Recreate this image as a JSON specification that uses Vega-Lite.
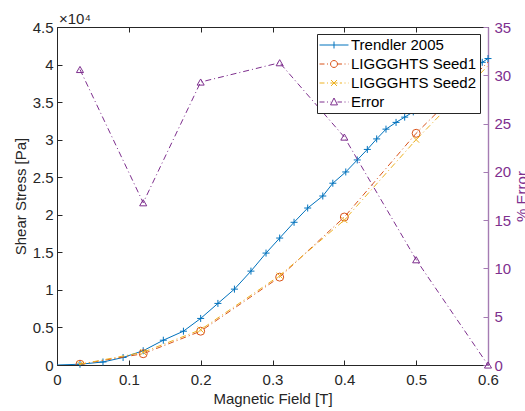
{
  "$schema": "https://vega.github.io/schema/vega-lite/v6.json",
  "width": 431,
  "height": 338,
  "autosize": {"type": "none"},
  "padding": {"left": 57, "top": 27, "right": 37, "bottom": 46},
  "title": {"text": "×10⁴", "anchor": "start", "frame": "group", "fontSize": 15, "fontWeight": "normal", "color": "#262626", "font": "Liberation Sans", "offset": 4, "baseline": "alphabetic", "dx": 2, "dy": 23},
  "datasets": {
    "stress": [
      {"B": 0, "series": "Trendler 2005", "S": 0},
      {"B": 0.032, "series": "Trendler 2005", "S": 100},
      {"B": 0.064, "series": "Trendler 2005", "S": 400},
      {"B": 0.092, "series": "Trendler 2005", "S": 1000},
      {"B": 0.12, "series": "Trendler 2005", "S": 1900},
      {"B": 0.148, "series": "Trendler 2005", "S": 3300},
      {"B": 0.176, "series": "Trendler 2005", "S": 4500},
      {"B": 0.2, "series": "Trendler 2005", "S": 6200},
      {"B": 0.224, "series": "Trendler 2005", "S": 8200},
      {"B": 0.247, "series": "Trendler 2005", "S": 10100},
      {"B": 0.27, "series": "Trendler 2005", "S": 12500},
      {"B": 0.291, "series": "Trendler 2005", "S": 14900},
      {"B": 0.31, "series": "Trendler 2005", "S": 16900},
      {"B": 0.33, "series": "Trendler 2005", "S": 19000},
      {"B": 0.349, "series": "Trendler 2005", "S": 20900},
      {"B": 0.37, "series": "Trendler 2005", "S": 22500},
      {"B": 0.384, "series": "Trendler 2005", "S": 24200},
      {"B": 0.402, "series": "Trendler 2005", "S": 25700},
      {"B": 0.418, "series": "Trendler 2005", "S": 27300},
      {"B": 0.432, "series": "Trendler 2005", "S": 28700},
      {"B": 0.445, "series": "Trendler 2005", "S": 30100},
      {"B": 0.458, "series": "Trendler 2005", "S": 31400},
      {"B": 0.472, "series": "Trendler 2005", "S": 32300},
      {"B": 0.484, "series": "Trendler 2005", "S": 33000},
      {"B": 0.496, "series": "Trendler 2005", "S": 33700},
      {"B": 0.508, "series": "Trendler 2005", "S": 34400},
      {"B": 0.52, "series": "Trendler 2005", "S": 35200},
      {"B": 0.532, "series": "Trendler 2005", "S": 36000},
      {"B": 0.544, "series": "Trendler 2005", "S": 36900},
      {"B": 0.556, "series": "Trendler 2005", "S": 37800},
      {"B": 0.568, "series": "Trendler 2005", "S": 38700},
      {"B": 0.58, "series": "Trendler 2005", "S": 39600},
      {"B": 0.592, "series": "Trendler 2005", "S": 40300},
      {"B": 0.6, "series": "Trendler 2005", "S": 40800},
      {"B": 0.032, "series": "LIGGGHTS Seed1", "S": 100},
      {"B": 0.12, "series": "LIGGGHTS Seed1", "S": 1500},
      {"B": 0.2, "series": "LIGGGHTS Seed1", "S": 4500},
      {"B": 0.31, "series": "LIGGGHTS Seed1", "S": 11700},
      {"B": 0.4, "series": "LIGGGHTS Seed1", "S": 19700},
      {"B": 0.5, "series": "LIGGGHTS Seed1", "S": 30850},
      {"B": 0.7, "series": "LIGGGHTS Seed1", "S": 49800},
      {"B": 0.032, "series": "LIGGGHTS Seed2", "S": 100},
      {"B": 0.12, "series": "LIGGGHTS Seed2", "S": 1700},
      {"B": 0.2, "series": "LIGGGHTS Seed2", "S": 4700},
      {"B": 0.31, "series": "LIGGGHTS Seed2", "S": 11900},
      {"B": 0.4, "series": "LIGGGHTS Seed2", "S": 19300},
      {"B": 0.5, "series": "LIGGGHTS Seed2", "S": 30000},
      {"B": 0.7, "series": "LIGGGHTS Seed2", "S": 49700}
    ],
    "error": [
      {"B": 0.032, "E": 30.6},
      {"B": 0.12, "E": 16.8},
      {"B": 0.2, "E": 29.3},
      {"B": 0.31, "E": 31.3},
      {"B": 0.4, "E": 23.6},
      {"B": 0.5, "E": 10.9},
      {"B": 0.6, "E": 0}
    ],
    "legendrows": [
      {"series": "Trendler 2005"},
      {"series": "LIGGGHTS Seed1"},
      {"series": "LIGGGHTS Seed2"},
      {"series": "Error"}
    ]
  },
  "layer": [
    {
      "data": {"name": "stress"},
      "encoding": {
        "x": {"field": "B", "type": "quantitative", "scale": {"domain": [0, 0.6], "nice": false, "zero": false},
          "axis": {"orient": "bottom", "title": "Magnetic Field [T]", "values": [0, 0.1, 0.2, 0.3, 0.4, 0.5, 0.6], "format": "~g", "labelPadding": 12, "titlePadding": 4}},
        "y": {"field": "S", "type": "quantitative", "scale": {"domain": [0, 45000], "nice": false, "zero": false},
          "axis": {"orient": "left", "title": "Shear Stress [Pa]", "values": [0, 5000, 10000, 15000, 20000, 25000, 30000, 35000, 40000, 45000], "labelExpr": "datum.value / 10000", "labelPadding": 9, "titlePadding": 4}}
      },
      "layer": [
        {"transform": [{"filter": "datum.series === 'Trendler 2005'"}],
          "mark": {"type": "line", "color": "#0072BD", "strokeWidth": 1, "clip": true}},
        {"transform": [{"filter": "datum.series === 'Trendler 2005' && datum.B > 0"}],
          "mark": {"type": "point", "shape": "M-1,0L1,0M0,-1L0,1", "filled": false, "color": "#0072BD", "size": 49, "strokeWidth": 1, "opacity": 1}},
        {"transform": [{"filter": "datum.series === 'LIGGGHTS Seed1'"}],
          "mark": {"type": "line", "color": "#D95319", "strokeWidth": 1, "strokeDash": [6, 3, 1, 3], "clip": true}},
        {"transform": [{"filter": "datum.series === 'LIGGGHTS Seed1'"}],
          "mark": {"type": "point", "shape": "circle", "filled": false, "color": "#D95319", "size": 64, "strokeWidth": 1, "opacity": 1, "clip": true}},
        {"transform": [{"filter": "datum.series === 'LIGGGHTS Seed2'"}],
          "mark": {"type": "line", "color": "#EDB120", "strokeWidth": 1, "strokeDash": [6, 3, 1, 3], "clip": true}},
        {"transform": [{"filter": "datum.series === 'LIGGGHTS Seed2'"}],
          "mark": {"type": "point", "shape": "M-1,-1L1,1M-1,1L1,-1", "filled": false, "color": "#EDB120", "size": 36, "strokeWidth": 1, "opacity": 1, "clip": true}}
      ]
    },
    {
      "data": {"name": "error"},
      "encoding": {
        "x": {"field": "B", "type": "quantitative", "scale": {"domain": [0, 0.6], "nice": false, "zero": false},
          "axis": {"orient": "top", "title": null, "labels": false, "values": [0, 0.1, 0.2, 0.3, 0.4, 0.5, 0.6]}},
        "y": {"field": "E", "type": "quantitative", "scale": {"domain": [0, 35], "nice": false, "zero": false},
          "axis": {"orient": "right", "title": "% Error", "titleAngle": 270, "titleBaseline": "top", "values": [0, 5, 10, 15, 20, 25, 30, 35], "labelColor": "#7E2F8E", "titleColor": "#7E2F8E", "domainColor": "#a57cb3", "tickColor": "#a57cb3", "domainWidth": 1.4, "labelPadding": 11, "titlePadding": 4}}
      },
      "layer": [
        {"mark": {"type": "line", "color": "#7E2F8E", "strokeWidth": 1, "strokeDash": [6, 3, 1, 3]}},
        {"mark": {"type": "point", "shape": "triangle-up", "filled": false, "color": "#7E2F8E", "size": 50, "strokeWidth": 1, "opacity": 1}}
      ]
    },
    {
      "data": {"name": "legendrows"},
      "mark": {"type": "point", "filled": false, "opacity": 0},
      "encoding": {
        "color": {"field": "series", "type": "nominal",
          "scale": {"domain": ["Trendler 2005", "LIGGGHTS Seed1", "LIGGGHTS Seed2", "Error"], "range": ["#0072BD", "#D95319", "#EDB120", "#7E2F8E"]},
          "legend": {"title": null, "orient": "none", "legendX": 260, "legendY": 7, "direction": "vertical", "strokeColor": "#262626", "fillColor": "#ffffff", "padding": 3, "symbolSize": 210, "symbolStrokeWidth": 1, "symbolOpacity": 1, "symbolOffset": 6, "labelOffset": 9, "rowPadding": 3, "labelFontSize": 15, "labelColor": "#000000", "labelFont": "Liberation Sans", "labelLimit": 0}},
        "shape": {"field": "series", "type": "nominal",
          "scale": {"domain": ["Trendler 2005", "LIGGGHTS Seed1", "LIGGGHTS Seed2", "Error"],
            "range": [
              "M-2,0L2,0M0,-0.48L0,0.48",
              "M-2,0L-1.31,0M-0.97,0L-0.83,0M-0.48,0A0.48 0.48 0 1 1 0.48,0A0.48 0.48 0 1 1 -0.48,0M0.48,0L1.1,0M1.45,0L1.59,0M1.93,0L2,0",
              "M-2,0L-1.31,0M-0.97,0L-0.83,0M-0.41,-0.41L0.41,0.41M-0.41,0.41L0.41,-0.41M-0.5,0L0.5,0M0.8,0L1.1,0M1.45,0L1.59,0M1.93,0L2,0",
              "M-2,0L-1.31,0M-0.97,0L-0.83,0M-0.5,0L-0.45,0M0,-0.55L0.48,0.4L-0.48,0.4Z M0.48,0L1.1,0M1.45,0L1.59,0M1.93,0L2,0"
            ]},
          "legend": {"title": null, "orient": "none", "legendX": 260, "legendY": 7, "direction": "vertical", "strokeColor": "#262626", "fillColor": "#ffffff", "padding": 3, "symbolSize": 210, "symbolStrokeWidth": 1, "symbolOpacity": 1, "symbolOffset": 6, "labelOffset": 9, "rowPadding": 3, "labelFontSize": 15, "labelColor": "#000000", "labelFont": "Liberation Sans", "labelLimit": 0}}
      }
    }
  ],
  "resolve": {"scale": {"y": "independent"}, "axis": {"x": "independent", "y": "independent"}},
  "config": {
    "font": "Liberation Sans",
    "view": {"stroke": null},
    "axis": {"grid": false, "labelFont": "Liberation Sans", "titleFont": "Liberation Sans", "labelFontSize": 15, "titleFontSize": 15, "titleFontWeight": "normal", "labelColor": "#262626", "titleColor": "#262626", "domainColor": "#262626", "tickColor": "#262626", "tickSize": -5, "labelFlush": false, "labelOverlap": false, "domainWidth": 1, "tickWidth": 1}
  }
}
